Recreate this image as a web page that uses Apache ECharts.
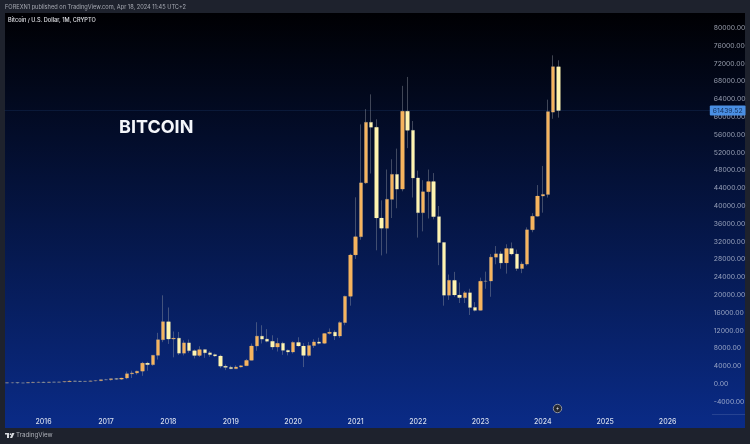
<!DOCTYPE html>
<html>
<head>
<meta charset="utf-8">
<style>html,body{margin:0;padding:0;background:#1e222d}#c{width:750px;height:444px}</style>
<script src="https://cdn.jsdelivr.net/npm/echarts@6/dist/echarts.min.js"></script>
</head>
<body>
<div id="c"></div>
<script>
const yearTicks = ['2016','2017','2018','2019','2020','2021','2022','2023','2024','2025','2026'];
const categories = [];
for (let y = 2015; y <= 2026; y++) for (let m = 1; m <= 12; m++) {
  if ((y === 2015 && m < 6) || (y === 2026 && m > 9)) continue;
  categories.push(y + '-' + String(m).padStart(2, '0'));
}
const opens = [223,263,284,230,236,314,377,430,368,437,416,448,531,673,624,575,609,698,745,963,970,1190,1080,1350,2300,2480,2875,4700,4340,6450,9950,
14000,10100,10300,6920,9240,7490,6400,7730,7010,6600,6300,4000,3740,3440,3820,4100,5320,8550,10750,10090,9600,8300,9150,7570,
7190,9350,8540,6420,8630,9450,9140,11350,11650,10780,13800,19700,29000,33100,45200,58800,57700,37300,35000,41500,47100,43800,61300,57000,
46300,38500,43200,45500,37600,31800,19950,23300,20000,19400,20500,17200,16550,23100,23150,28500,29250,27200,30450,29200,25950,26950,34650,37700,
42250,42600,61100,71300];
const closes = [263,284,230,236,314,377,430,368,437,416,448,531,673,624,575,609,698,745,963,970,1190,1080,1350,2300,2480,2875,4700,4340,6450,9950,14000,
10100,10300,6920,9240,7490,6400,7730,7010,6600,6300,4000,3740,3440,3820,4100,5320,8550,10750,10090,9600,8300,9150,7570,7190,
9350,8540,6420,8630,9450,9140,11350,11650,10780,13800,19700,29000,33100,45200,58800,57700,37300,35000,41500,47100,43800,61300,57000,46300,
38500,43200,45500,37600,31800,19950,23300,20000,19400,20500,17200,16550,23100,23150,28500,29250,27200,30450,29200,25950,26950,34650,37700,42250,
42600,61200,71300,61439.52];
const lows = [215,253,162,225,235,310,350,355,365,430,410,420,525,640,480,565,605,690,725,960,750,950,890,1080,1350,2100,1830,2970,4100,5500,9400,
9000,6000,6500,6430,7000,5750,6070,5880,6100,6100,3550,3120,3350,3380,3700,4100,5300,7450,9100,9350,7700,7300,6550,6430,
6850,8400,3800,6150,8100,8900,8970,11100,9880,10370,13200,17600,28100,32400,44960,47300,30040,28900,29300,37300,39500,43300,53000,41900,
32900,34300,37200,37000,26700,17600,18900,19600,18200,18200,15500,16300,16500,21400,19600,26900,25900,24800,28900,25400,24900,26600,34100,37600,
38500,41900,59600,59860];
const highs = [270,315,285,245,335,500,470,470,450,445,470,560,780,705,630,615,720,780,970,1150,1200,1350,1350,2800,3000,2990,4980,5000,6470,11500,19930,
17200,11800,11700,9800,10000,7760,8480,7800,7400,6850,6600,4400,4100,4200,4280,5640,9100,13880,13200,12340,10950,10370,9500,7750,
9600,10500,9190,9460,10070,10400,11440,12480,12070,14100,19850,29300,41950,58330,61780,65090,59500,41270,48200,50500,52900,67000,69000,59100,
47950,45800,48200,47400,40000,31900,24600,25200,22800,20900,21400,18400,23900,25250,29200,31000,29800,31400,31800,30200,27500,35200,38400,44700,
49000,63900,73860,72740];

const UP = '#f6b45e', DOWN = '#fff4b0', WICK = 'rgba(150,155,165,0.42)';
const full = opens.map((o, i) => [o, closes[i], lows[i], highs[i]]);
const bodies = opens.map((o, i) => [o, closes[i], Math.min(o, closes[i]), Math.max(o, closes[i])]);
const FONT = 'Inter, "Liberation Sans", sans-serif';
const chart = echarts.init(document.getElementById('c'), null, {renderer: 'canvas'});
chart.setOption({
  animation: false,
  backgroundColor: '#1e222d',
  grid: {left: 4.6, top: 10.2, width: 707.2, height: 409.4, containLabel: false},
  xAxis: {
    type: 'category', data: categories, boundaryGap: true,
    axisLine: {show: false}, axisTick: {show: false}, splitLine: {show: false},
    axisLabel: {
      interval: (i, v) => v.endsWith('-01') && yearTicks.includes(v.slice(0, 4)),
      formatter: v => v.slice(0, 4),
      color: '#d5dcec', fontSize: 7, fontFamily: FONT, margin: 2, verticalAlign: 'middle', fontWeight: 500
    }
  },
  yAxis: {
    type: 'value', position: 'right', min: -8000, max: 84000, interval: 4000, scale: false,
    axisLine: {show: false}, axisTick: {show: false}, splitLine: {show: false},
    axisLabel: {
      showMinLabel: false, showMaxLabel: false, align: 'left', margin: 2,
      formatter: v => v.toFixed(2),
      color: 'rgba(205,212,228,0.72)', fontSize: 6.8, fontFamily: FONT
    }
  },
  graphic: [
    {type: 'rect', z: -10, silent: true, shape: {x: 5, y: 13, width: 740, height: 415},
      style: {fill: new echarts.graphic.LinearGradient(0, 0, 0, 1, [
        {offset: 0, color: '#000003'}, {offset: 1, color: '#0a2b87'}])}},
    {type: 'line', z: -9, silent: true, shape: {x1: 712, y1: 414.5, x2: 745, y2: 414.5},
      style: {stroke: 'rgba(255,255,255,0.12)', lineWidth: 1}},
    {type: 'text', z: 10, x: 5, y: 4.5, style: {text: 'FOREXN1 published on TradingView.com, Apr 18, 2024 11:45 UTC+2', fill: '#a6a9b2', font: '5.65px ' + FONT}},
    {type: 'text', z: 10, x: 8, y: 17, style: {text: 'Bitcoin / U.S. Dollar, 1M, CRYPTO', fill: '#dfe1e6', font: '500 5.6px ' + FONT}},
    {type: 'text', z: 10, x: 119, y: 118.5, style: {text: 'BITCOIN', fill: '#f4f6fa', font: 'bold 18px ' + FONT}},
    {type: 'text', z: 10, x: 16, y: 432.5, style: {text: 'TradingView', fill: '#aeb1b9', font: '6.2px ' + FONT}},
    {type: 'rect', z: 10, silent: true, shape: {x: 5, y: 433, width: 4, height: 1.5}, style: {fill: '#d8dadf'}},
    {type: 'rect', z: 10, silent: true, shape: {x: 7, y: 433, width: 2, height: 5}, style: {fill: '#d8dadf'}},
    {type: 'circle', z: 10, silent: true, shape: {cx: 10.5, cy: 434.2, r: 0.9}, style: {fill: '#d8dadf'}},
    {type: 'polygon', z: 10, silent: true, shape: {points: [[12, 433], [14.5, 433], [12.2, 438], [10, 438]]}, style: {fill: '#d8dadf'}},
    {type: 'circle', z: 10, silent: true, shape: {cx: 557.5, cy: 408.5, r: 4.2}, style: {fill: '#23262f', stroke: '#8f94a0', lineWidth: 1}},
    {type: 'polygon', z: 11, silent: true, shape: {points: [[558.4, 406], [556.2, 408.9], [557.5, 408.9], [556.7, 411], [558.9, 408.1], [557.6, 408.1]]}, style: {fill: '#c9ccd4'}}
  ],
  series: [
    {
      type: 'candlestick', data: full, barWidth: 3,
      itemStyle: {color: 'transparent', color0: 'transparent', borderColor: WICK, borderColor0: WICK, borderWidth: 1},
      markLine: {
        silent: true, symbol: 'none', animation: false,
        lineStyle: {color: 'rgba(70,130,215,0.13)', width: 1, type: 'solid'},
        label: {
          position: 'end', distance: -2, formatter: () => closes[closes.length - 1].toFixed(2),
          backgroundColor: '#4a8fe3', color: '#12305f', fontSize: 6.8, fontFamily: FONT,
          padding: [1.5, 3, 1.5, 3], borderRadius: 1
        },
        data: [{yAxis: closes[closes.length - 1]}]
      }
    },
    {
      type: 'candlestick', data: bodies, barWidth: 4, z: 3,
      itemStyle: {color: UP, color0: DOWN, borderColor: UP, borderColor0: DOWN, borderWidth: 0}
    }
  ]
});
</script>
</body>
</html>
